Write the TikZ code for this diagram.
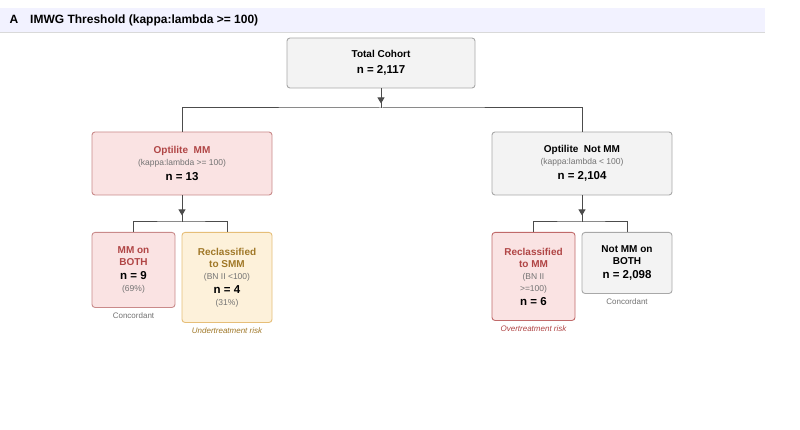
\documentclass[tikz,border=0pt]{standalone}
\usepackage{fontspec}
\setmainfont{Liberation Sans}
\usetikzlibrary{arrows.meta,positioning}
\definecolor{pinkfill}{HTML}{FAE3E3}
\definecolor{pinkdraw}{HTML}{C98A8A}
\definecolor{pinktext}{HTML}{B04545}
\definecolor{orfill}{HTML}{FDF1DA}
\definecolor{ordraw}{HTML}{E6BE78}
\definecolor{ortext}{HTML}{A07828}
\definecolor{grfill}{HTML}{F3F3F3}
\definecolor{grdraw}{HTML}{A8A8A8}
\newcommand{\hd}[2]{\textcolor{#1}{\textbf{\fontsize{10}{12}\selectfont #2}}}
\newcommand{\sm}[1]{{\fontsize{8.5}{10.5}\selectfont\color{black!55}#1}}
\newcommand{\nn}[1]{\textbf{\fontsize{11.5}{13}\selectfont #1}}
\tikzset{
  box/.style={draw, rounded corners=3pt, line width=0.9pt, align=center, inner sep=2pt},
  mmbox/.style={box, fill=pinkfill, draw=pinkdraw},
  smmbox/.style={box, fill=orfill, draw=ordraw},
  notbox/.style={box, fill=grfill, draw=grdraw},
  link/.style={draw=black!70, line width=1pt},
  note/.style={font=\fontsize{8}{9}\selectfont, text=black!55}
}
\begin{document}
\begin{tikzpicture}[x=1pt,y=-1pt]
            \useasboundingbox (0,0) rectangle (800,430);
            \fill[white] (0,0) rectangle (800,430);

            % header
            \fill[blue!5] (0,8) rectangle (765,32);
            \draw[black!15] (0,32) -- (765,32);
            \node[anchor=west, font=\bfseries\fontsize{12}{14}\selectfont] (title) at (6,20) {A\quad IMWG Threshold (kappa:lambda >= 100)};

            % top level
            \node[notbox, minimum width=188, minimum height=50] (total) at (381,63)
              {\hd{black}{Total Cohort}\\[4pt]\nn{n = 2,117}};

            \node[mmbox, minimum width=180, minimum height=63] (mm) at (182,163.5)
              {\hd{pinktext}{Optilite\ \ MM}\\[0pt]
               \sm{(kappa:lambda >= 100)}\\[3pt]
               \nn{n = 13}};
            \node[notbox, minimum width=180, minimum height=63] (notmm) at (582,163.5)
              {\hd{black}{Optilite\ \ Not MM}\\[0pt]
               \sm{(kappa:lambda < 100)}\\[3pt]
               \nn{n = 2,104}};

            % second level
            \node[mmbox, minimum width=83, minimum height=75, anchor=north] (both) at (133.5,232)
              {\hd{pinktext}{MM on}\\\hd{pinktext}{BOTH}\\[2pt]
               \nn{n = 9}\\
               \sm{(69\%)}};
            \node[smmbox, minimum width=90, minimum height=90, anchor=north] (smm) at (227,232)
              {\hd{ortext}{Reclassified}\\\hd{ortext}{to SMM}\\[0pt]
               \sm{(BN II <100)}\\[2pt]
               \nn{n = 4}\\
               \sm{(31\%)}};
            \node[mmbox, draw=pinktext!80, minimum width=83, minimum height=88, anchor=north] (recl) at (533.5,232)
              {\hd{pinktext}{Reclassified}\\\hd{pinktext}{to MM}\\[0pt]
               \sm{(BN II}\\\sm{>=100)}\\[2pt]
               \nn{n = 6}};
            \node[notbox, minimum width=90, minimum height=61, anchor=north] (notboth) at (627,232)
              {\hd{black}{Not MM on}\\\hd{black}{BOTH}\\[2pt]
               \nn{n = 2,098}};

            % notes
            \node[note, below=1pt of both] (conc1) {Concordant};
            \node[note, below=1pt of smm, text=ortext, font=\itshape\fontsize{8}{9}\selectfont] (under) {Undertreatment risk};
            \node[note, below=1pt of recl, text=pinktext, font=\itshape\fontsize{8}{9}\selectfont] (over) {Overtreatment risk};
            \node[note, below=1pt of notboth] (conc2) {Concordant};

            % connectors
            \coordinate (t1) at (381,108);
            \coordinate (m1) at (182,222);
            \coordinate (m2) at (582,222);
            \draw[link, -{Triangle[length=6pt,width=7pt]}] (total.south) -- ++(0,15);
            \draw[link] (total.south) -- (t1);
            \draw[link] (mm.north) |- (t1) -| (notmm.north);
            \draw[link, -{Triangle[length=6pt,width=7pt]}] (mm.south) -- ++(0,20);
            \draw[link] (mm.south) -- (m1);
            \draw[link] (both.north) |- (m1) -| (smm.north);
            \draw[link, -{Triangle[length=6pt,width=7pt]}] (notmm.south) -- ++(0,20);
            \draw[link] (notmm.south) -- (m2);
            \draw[link] (recl.north) |- (m2) -| (notboth.north);
\end{tikzpicture}
\end{document}
